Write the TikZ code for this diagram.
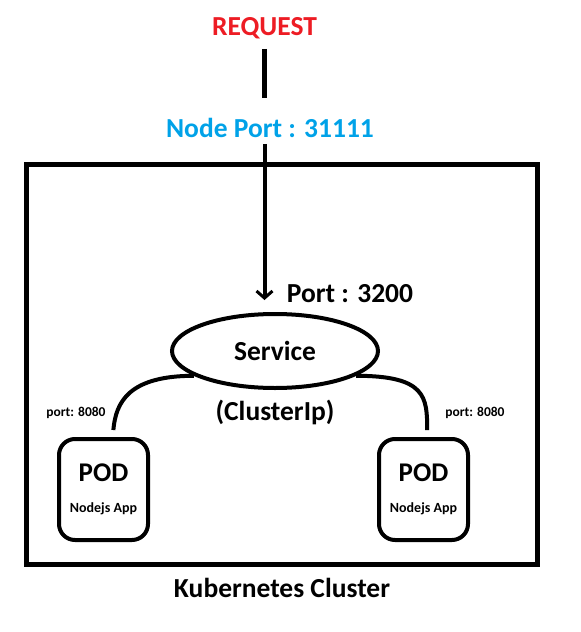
\documentclass[tikz,border=0pt]{standalone}
\usepackage{fontspec}
\setmainfont{Carlito}
\usetikzlibrary{positioning,arrows.meta,shapes.geometric}

\definecolor{reqred}{RGB}{237,28,36}
\definecolor{portblue}{RGB}{0,162,232}

\tikzset{
	lbl/.style={font=\bfseries\fontsize{27.5}{32}\selectfont, inner sep=0pt},
	small lbl/.style={font=\bfseries\fontsize{13.5}{16}\selectfont, inner sep=0pt},
	podbox/.style={draw, line width=4pt, rounded corners=16pt, minimum width=89pt,
		minimum height=101pt, align=center, font=\bfseries\fontsize{27}{30}\selectfont},
	link/.style={line width=4pt, shorten >=7pt},
}

\begin{document}
\begin{tikzpicture}[x=1pt,y=-1pt]
	\useasboundingbox (0,0) rectangle (581,632);
	
	\node[lbl, text=reqred] (req) at (264.5,28) {REQUEST};
	\node[lbl, text=portblue] (np) at (270,128) {Node Port : 31111};
	
	\node[draw, line width=5pt, minimum width=511pt, minimum height=400pt] (cluster) at (282,364.5) {};
	\node[lbl, below = 11pt of cluster.south] (cname) {Kubernetes Cluster};
	
	\node[draw, ellipse, line width=4pt, minimum width=206pt, minimum height=74pt, lbl] (svc) at (275,351) {Service};
	\node[lbl, below = 10pt of svc.south] (cip) {(ClusterIp)};
	\node[lbl] (sport) at (350,294) {Port : 3200};
	
	\node[podbox] (pod1) at (103.5,489.5) {POD\\[1pt]{\fontsize{14}{16}\selectfont Nodejs App}};
	\node[podbox] (pod2) at (423.5,489.5) {POD\\[1pt]{\fontsize{14}{16}\selectfont Nodejs App}};
	\node[small lbl] (p1port) at (76,413) {port: 8080};
	\node[small lbl] (p2port) at (475,413) {port: 8080};
	
	% request into the cluster
	\draw[line width=5pt, shorten <=10pt, shorten >=20pt] (req.south) -- (req.south |- np.north);
	\draw[line width=4pt, shorten <=6pt, shorten >=12pt, -{Straight Barb[length=7pt,width=16pt,line width=3pt]}]
		(np.south -| req) -- (svc.north -| req);
	
	% service to pods
	\draw[link] (svc.197) .. controls +(-65,0) and +(3,-35) .. (pod1.80);
	\draw[link] (svc.343) .. controls +(70,0) and +(0,-40) .. (pod2.86);
\end{tikzpicture}
\end{document}
